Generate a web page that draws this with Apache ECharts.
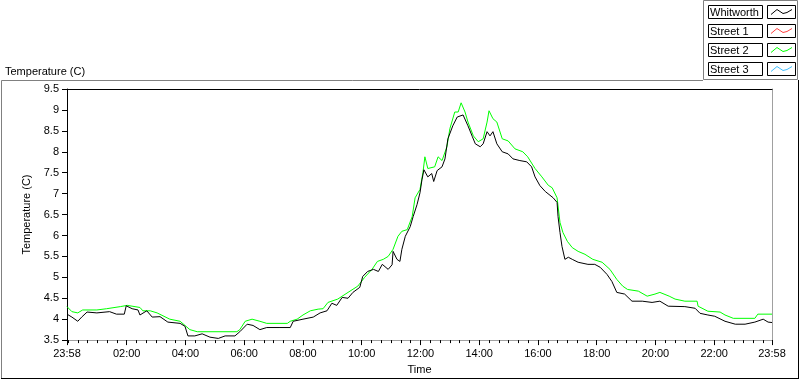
<!DOCTYPE html>
<html>
<head>
<meta charset="utf-8">
<title>Temperature</title>
<script src="https://cdn.jsdelivr.net/npm/echarts@6/dist/echarts.min.js"></script>
<style>
html, body { margin: 0; padding: 0; background: #fff; }
#chart { width: 800px; height: 380px; }
</style>
</head>
<body>
<div id="chart"></div>
<script>
// all times are minutes since 23:58 of the previous day
var tickMinutes = [0, 122, 242, 362, 482, 602, 722, 842, 962, 1082, 1202, 1322, 1440];
var tickLabels = ["23:58", "02:00", "04:00", "06:00", "08:00", "10:00", "12:00",
    "14:00", "16:00", "18:00", "20:00", "22:00", "23:58"];

var whitworthTime = [0, 10, 22, 30, 41, 61, 87, 101, 117, 121, 133, 145, 149, 163, 174, 190, 206, 231, 241, 247,
    261, 276, 292, 309, 323, 343, 353, 368, 380, 394, 408, 435, 456, 462, 482, 503, 517, 531, 541, 551,
    562, 574, 584, 598, 604, 614, 626, 636, 644, 656, 664, 666, 674, 680, 684, 691, 701, 707, 715, 721,
    725, 729, 737, 745, 749, 756, 766, 772, 778, 788, 797, 809, 819, 828, 834, 844, 850, 858, 864, 870,
    878, 889, 901, 911, 925, 939, 949, 956, 966, 977, 993, 1001, 1003, 1007, 1011, 1017, 1024, 1032, 1044, 1064,
    1078, 1089, 1103, 1113, 1123, 1139, 1154, 1175, 1195, 1211, 1228, 1262, 1283, 1293, 1309, 1323, 1344, 1365, 1385, 1405,
    1422, 1432, 1440];
var whitworthTemp = [4.12, 4.05, 3.95, 4.05, 4.17, 4.15, 4.18, 4.12, 4.12, 4.32, 4.25, 4.22, 4.1, 4.2, 4.05, 4.06, 3.93, 3.9, 3.83, 3.6,
    3.6, 3.65, 3.57, 3.54, 3.6, 3.6, 3.7, 3.88, 3.85, 3.75, 3.8, 3.8, 3.8, 3.95, 4.0, 4.05, 4.15, 4.2, 4.38, 4.33,
    4.52, 4.5, 4.64, 4.76, 5.02, 5.14, 5.19, 5.14, 5.31, 5.19, 5.3, 5.62, 5.43, 5.38, 5.67, 5.98, 6.21, 6.45, 6.74, 7.02,
    7.33, 7.57, 7.4, 7.48, 7.29, 7.55, 7.64, 7.83, 8.31, 8.62, 8.83, 8.88, 8.62, 8.36, 8.19, 8.12, 8.19, 8.48, 8.38, 8.48,
    8.19, 8.0, 7.95, 7.83, 7.79, 7.76, 7.64, 7.4, 7.19, 7.05, 6.9, 6.79, 6.45, 6.07, 5.74, 5.43, 5.48, 5.43, 5.36, 5.31,
    5.31, 5.24, 5.07, 4.9, 4.64, 4.6, 4.43, 4.43, 4.4, 4.43, 4.31, 4.3, 4.26, 4.14, 4.1, 4.07, 3.95, 3.88, 3.88, 3.93,
    4.0, 3.93, 3.92];

var street2Time = [0, 10, 22, 32, 61, 81, 109, 123, 149, 155, 170, 184, 210, 231, 241, 251, 266, 347, 353, 364,
    378, 394, 408, 450, 456, 470, 482, 497, 513, 523, 533, 553, 574, 594, 608, 623, 634, 646, 656, 666,
    676, 684, 695, 705, 711, 721, 727, 731, 737, 751, 758, 766, 776, 782, 792, 799, 805, 813, 819, 830,
    840, 850, 858, 862, 870, 878, 889, 901, 915, 931, 941, 956, 970, 983, 991, 1001, 1007, 1013, 1022, 1032,
    1044, 1058, 1074, 1093, 1109, 1123, 1135, 1145, 1167, 1185, 1201, 1211, 1230, 1242, 1262, 1287, 1289, 1309, 1334, 1344,
    1361, 1405, 1411, 1440];
var street2Temp = [4.3, 4.18, 4.15, 4.22, 4.22, 4.25, 4.3, 4.33, 4.28, 4.2, 4.2, 4.15, 4.0, 3.95, 3.85, 3.75, 3.7, 3.7, 3.75, 3.95,
    4.0, 3.95, 3.9, 3.9, 3.95, 4.0, 4.1, 4.2, 4.24, 4.25, 4.4, 4.48, 4.64, 4.79, 5.0, 5.19, 5.38, 5.43, 5.5, 5.67,
    5.98, 6.1, 6.14, 6.45, 6.9, 7.1, 7.5, 7.88, 7.6, 7.64, 7.88, 7.79, 8.12, 8.55, 8.95, 8.95, 9.17, 8.95, 8.71, 8.38,
    8.24, 8.31, 8.71, 8.98, 8.79, 8.71, 8.31, 8.26, 8.07, 8.0, 7.88, 7.6, 7.4, 7.2, 7.14, 6.9, 6.31, 6.07, 5.86, 5.71,
    5.62, 5.55, 5.43, 5.36, 5.19, 4.95, 4.79, 4.71, 4.67, 4.55, 4.6, 4.64, 4.55, 4.48, 4.43, 4.43, 4.31, 4.19, 4.17, 4.1,
    4.02, 4.02, 4.12, 4.12];

// no readings for these two
var street1Time = [];
var street1Temp = [];
var street3Time = [];
var street3Temp = [];

var seriesNames = ["Whitworth", "Street 1", "Street 2", "Street 3"];
var seriesColors = ["#000000", "#ff4040", "#00ff00", "#40c0ff"];

var FONT = "Liberation Sans";

function pairs(t, v) {
    return t.map(function (m, i) { return [m, v[i]]; });
}

var minorTicks = [0, 1440];
for (var m = 2; m < 1440; m += 20) minorTicks.push(m);

// LabVIEW-style legend at the top right
var legendItems = [{
    type: "rect",
    shape: { x: 703.5, y: 0.5, width: 94, height: 79 },
    style: { fill: "#fff", stroke: "#808080", lineWidth: 1 }
}];
seriesNames.forEach(function (name, i) {
    var y0 = 5.5 + i * 19;
    legendItems.push({
        type: "rect",
        shape: { x: 708.5, y: y0, width: 54, height: 13 },
        style: { fill: "#fff", stroke: "#000", lineWidth: 1 }
    });
    legendItems.push({
        type: "text",
        x: 710, y: y0 + 7,
        style: { text: name, fill: "#000", font: "11px " + FONT, textVerticalAlign: "middle" }
    });
    legendItems.push({
        type: "rect",
        shape: { x: 767.5, y: y0, width: 28, height: 13 },
        style: { fill: "#fff", stroke: "#000", lineWidth: 1 }
    });
    legendItems.push({
        type: "polyline",
        shape: { points: [[771, y0 + 9], [777, y0 + 4], [783, y0 + 8], [787, y0 + 7], [792, y0 + 4]] },
        style: { stroke: seriesColors[i], lineWidth: 1, fill: null }
    });
});

var frame = [
    { type: "line", shape: { x1: 1.5, y1: 80.5, x2: 703, y2: 80.5 }, style: { stroke: "#808080" } },
    { type: "line", shape: { x1: 1.5, y1: 80.5, x2: 1.5, y2: 378 }, style: { stroke: "#808080" } },
    { type: "line", shape: { x1: 1, y1: 378.5, x2: 799, y2: 378.5 }, style: { stroke: "#000" } },
    { type: "line", shape: { x1: 798.5, y1: 80, x2: 798.5, y2: 379 }, style: { stroke: "#000" } },
    {
        type: "text", x: 5, y: 72,
        style: { text: "Temperature (C)", fill: "#000", font: "11px " + FONT, textVerticalAlign: "middle" }
    }
];

var chart = echarts.init(document.getElementById("chart"));

var option = {
    animation: false,
    backgroundColor: "#fff",
    textStyle: { fontFamily: FONT, fontSize: 11, color: "#000" },
    grid: { left: 67, top: 89, right: 28, bottom: 39, containLabel: false },
    graphic: frame.concat(legendItems),
    xAxis: [{
        type: "value",
        min: 0,
        max: 1440,
        position: "bottom",
        name: "Time",
        nameLocation: "middle",
        nameGap: 23,
        nameTextStyle: { fontFamily: FONT, fontSize: 11, color: "#000" },
        axisLine: { show: true, onZero: false, lineStyle: { color: "#a0a0a0", width: 1 } },
        axisTick: { show: true, customValues: tickMinutes, length: 5, lineStyle: { color: "#000" } },
        axisLabel: {
            customValues: tickMinutes,
            margin: 8,
            fontFamily: FONT,
            fontSize: 11,
            color: "#000",
            formatter: function (v) {
                var best = 0;
                for (var i = 1; i < tickMinutes.length; i++) {
                    if (Math.abs(tickMinutes[i] - v) < Math.abs(tickMinutes[best] - v)) best = i;
                }
                return tickLabels[best];
            }
        },
        splitLine: { show: false }
    }, {
        type: "value",
        min: 0,
        max: 1440,
        position: "bottom",
        axisLine: { show: false, onZero: false },
        axisTick: { show: true, customValues: minorTicks, length: 3, lineStyle: { color: "#000" } },
        axisLabel: { show: false },
        splitLine: { show: false }
    }, {
        type: "value",
        min: 0,
        max: 1440,
        position: "top",
        axisLine: { show: true, onZero: false, lineStyle: { color: "#000", width: 1 } },
        axisTick: { show: false },
        axisLabel: { show: false },
        splitLine: { show: false }
    }],
    yAxis: [{
        type: "value",
        min: 3.5,
        max: 9.5,
        interval: 0.5,
        position: "left",
        name: "Temperature (C)",
        nameLocation: "middle",
        nameRotate: 90,
        nameGap: 30,
        nameTextStyle: { fontFamily: FONT, fontSize: 11, color: "#000" },
        axisLine: { show: true, onZero: false, lineStyle: { color: "#000", width: 1 } },
        axisTick: { show: true, length: 5, lineStyle: { color: "#000" } },
        axisLabel: { margin: 8, fontFamily: FONT, fontSize: 11, color: "#000" },
        splitLine: { show: false }
    }, {
        type: "value",
        min: 3.5,
        max: 9.5,
        position: "right",
        axisLine: { show: true, onZero: false, lineStyle: { color: "#a0a0a0", width: 1 } },
        axisTick: { show: false },
        axisLabel: { show: false },
        splitLine: { show: false }
    }],
    series: [
        { name: "Whitworth", data: pairs(whitworthTime, whitworthTemp) },
        { name: "Street 1", data: pairs(street1Time, street1Temp) },
        { name: "Street 2", data: pairs(street2Time, street2Temp) },
        { name: "Street 3", data: pairs(street3Time, street3Temp) }
    ].map(function (s, i) {
        return {
            name: s.name,
            type: "line",
            xAxisIndex: 0,
            yAxisIndex: 0,
            data: s.data,
            showSymbol: false,
            z: i === 0 ? 3 : 2,
            lineStyle: { color: seriesColors[i], width: 1 },
            itemStyle: { color: seriesColors[i] }
        };
    })
};

chart.setOption(option);
</script>
</body>
</html>
